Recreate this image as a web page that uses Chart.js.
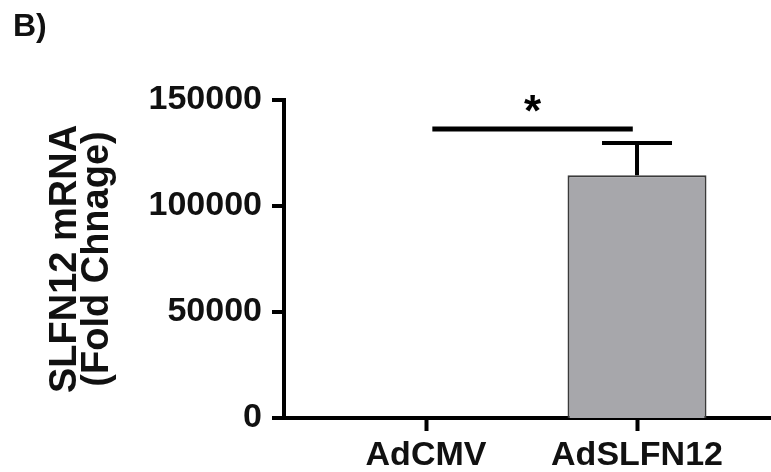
<!DOCTYPE html>
<html lang="en">
<head>
    <meta charset="UTF-8">
    <title>SLFN12 mRNA</title>
    <script src="https://cdn.jsdelivr.net/npm/chart.js"></script>
    <style>
        html, body { margin: 0; padding: 0; background: #fff; }
        #chart { width: 771px; height: 472px; display: block; }
    </style>
</head>
<body>
    <canvas id="chart" width="771" height="472"></canvas>
    <script>
        // data
        const groups = ['AdCMV', 'AdSLFN12'];
        const groupPos = [1, 2];
        const means = [1, 114500];
        const errors = [0, 15200];
        const yTicks = [0, 50000, 100000, 150000];
        // significance bracket: from / to (x positions), height, mark
        const sigX = [1.03, 1.98];
        const sigY = 136300;
        const sigLabel = '*';

        const FONT = '"Liberation Sans", Arial, sans-serif';

        const overlay = {
            id: 'overlay',
            afterDatasetsDraw(chart) {
                const ctx = chart.ctx;
                const x = chart.scales.x, y = chart.scales.y;
                ctx.save();
                ctx.strokeStyle = '#000';
                ctx.lineWidth = 4;
                // error bars (upper only)
                means.forEach((m, i) => {
                    if (!errors[i]) return;
                    const cx = x.getPixelForValue(groupPos[i]);
                    const top = y.getPixelForValue(m + errors[i]);
                    const base = y.getPixelForValue(m);
                    ctx.beginPath();
                    ctx.moveTo(cx, base);
                    ctx.lineTo(cx, top);
                    ctx.moveTo(cx - 35, top);
                    ctx.lineTo(cx + 35, top);
                    ctx.stroke();
                });
                // significance line
                const sy = y.getPixelForValue(sigY);
                ctx.lineWidth = 5;
                ctx.beginPath();
                ctx.moveTo(x.getPixelForValue(sigX[0]), sy);
                ctx.lineTo(x.getPixelForValue(sigX[1]), sy);
                ctx.stroke();
                ctx.fillStyle = '#000';
                ctx.font = 'bold 44px ' + FONT;
                ctx.textAlign = 'center';
                ctx.textBaseline = 'middle';
                ctx.fillText(sigLabel, x.getPixelForValue((sigX[0] + sigX[1]) / 2), sy - 15);
                // panel letter
                ctx.font = 'bold 32px ' + FONT;
                ctx.textAlign = 'left';
                ctx.textBaseline = 'alphabetic';
                ctx.fillStyle = '#111';
                ctx.fillText('B)', 13, 36);
                ctx.restore();
            }
        };

        new Chart(document.getElementById('chart'), {
            type: 'bar',
            data: {
                datasets: [{
                    data: groupPos.map((p, i) => ({ x: p, y: means[i] })),
                    backgroundColor: '#a7a7ab',
                    borderColor: '#3a3a3a',
                    borderWidth: [0, 2],
                    inflateAmount: 0,
                    barThickness: 139
                }]
            },
            options: {
                responsive: false,
                animation: false,
                layout: { padding: { top: 100, left: 14, right: 0, bottom: 0 } },
                plugins: {
                    legend: { display: false },
                    tooltip: { enabled: false }
                },
                scales: {
                    x: {
                        type: 'linear',
                        z: 1,
                        offset: false,
                        min: 0.327,
                        max: 2.635,
                        afterBuildTicks: (s) => { s.ticks = groupPos.map(v => ({ value: v })); },
                        afterFit: (s) => { s.height = 54; },
                        ticks: {
                            callback: (v) => groups[groupPos.indexOf(v)],
                            color: '#111',
                            font: { family: FONT, size: 34, weight: 'bold' },
                            padding: 4,
                            maxRotation: 0
                        },
                        grid: { drawOnChartArea: false, offset: false, tickLength: 13, tickWidth: 4, tickColor: '#000' },
                        border: { color: '#000', width: 4 }
                    },
                    y: {
                        z: 1,
                        min: 0,
                        max: 150000,
                        afterBuildTicks: (s) => { s.ticks = yTicks.map(v => ({ value: v })); },
                        afterFit: (s) => { s.width = 270; },
                        ticks: {
                            callback: (v) => String(v),
                            color: '#111',
                            font: { family: FONT, size: 34, weight: 'bold' },
                            padding: 10
                        },
                        grid: { drawOnChartArea: false, lineWidth: 0, tickLength: 12, tickWidth: 4, tickColor: '#000' },
                        border: { color: '#000', width: 4 },
                        title: {
                            display: true,
                            text: ['SLFN12 mRNA', '(Fold Chnage)'],
                            color: '#111',
                            font: { family: FONT, size: 38, weight: 'bold', lineHeight: 0.85 },
                            padding: { top: 35, bottom: 34 }
                        }
                    }
                }
            },
            plugins: [overlay]
        });
    </script>
</body>
</html>
